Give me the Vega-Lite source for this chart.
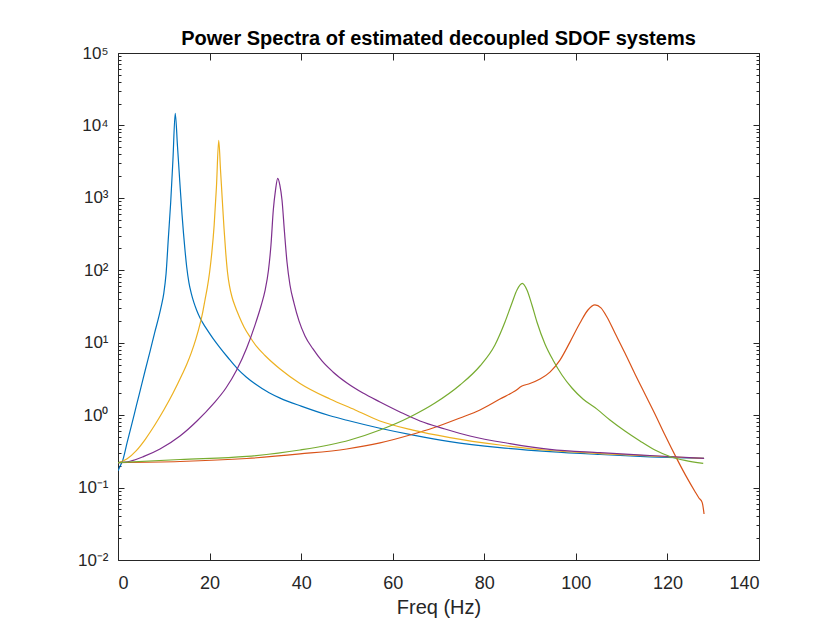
{
  "$schema": "https://vega.github.io/schema/vega-lite/v6.json",
  "width": 641,
  "height": 507,
  "autosize": {"type": "none"},
  "padding": {"left": 118, "top": 53, "right": 68, "bottom": 65},
  "background": "white",
  "config": {
    "font": "Liberation Sans",
    "view": {"stroke": "#262626", "strokeWidth": 1},
    "axis": {"grid": false, "domain": false, "tickColor": "#262626", "tickWidth": 1, "labelColor": "#262626", "titleColor": "#262626", "labelFont": "Liberation Sans", "titleFont": "Liberation Sans"}
  },
  "title": {"text": "Power Spectra of estimated decoupled SDOF systems", "fontSize": 20, "fontWeight": "bold", "color": "#000000", "anchor": "middle", "frame": "group", "baseline": "alphabetic", "offset": -21, "font": "Liberation Sans"},
  "data": {"values": [
    {"s":"1","f":0,"v":0.17},{"s":"1","f":0.5,"v":0.2},{"s":"1","f":1,"v":0.234},{"s":"1","f":2,"v":0.42},{"s":"1","f":3,"v":0.745},{"s":"1","f":4,"v":1.34},{"s":"1","f":5,"v":2.4},{"s":"1","f":6,"v":4.3},{"s":"1","f":7,"v":7.6},{"s":"1","f":8,"v":13.7},{"s":"1","f":9,"v":24},{"s":"1","f":9.5,"v":33},{"s":"1","f":10,"v":48},{"s":"1","f":10.5,"v":90},{"s":"1","f":11,"v":280},{"s":"1","f":11.5,"v":850},{"s":"1","f":12,"v":3370},{"s":"1","f":12.5,"v":14700},{"s":"1","f":13,"v":5070},{"s":"1","f":13.5,"v":1660},{"s":"1","f":14,"v":573},{"s":"1","f":14.6,"v":200},{"s":"1","f":15,"v":112},{"s":"1","f":15.5,"v":67},{"s":"1","f":16,"v":48},{"s":"1","f":16.6,"v":35.5},{"s":"1","f":17.2,"v":27.9},{"s":"1","f":17.9,"v":22.1},{"s":"1","f":19.2,"v":16},{"s":"1","f":20.7,"v":11.6},{"s":"1","f":22,"v":9.0},{"s":"1","f":24,"v":6.25},{"s":"1","f":26,"v":4.43},{"s":"1","f":28,"v":3.37},{"s":"1","f":30,"v":2.69},{"s":"1","f":33,"v":2.04},{"s":"1","f":35.4,"v":1.72},{"s":"1","f":40,"v":1.33},{"s":"1","f":46.3,"v":0.98},{"s":"1","f":50,"v":0.85},{"s":"1","f":57.2,"v":0.66},{"s":"1","f":64.5,"v":0.53},{"s":"1","f":72.5,"v":0.432},{"s":"1","f":83.4,"v":0.357},{"s":"1","f":94.3,"v":0.313},{"s":"1","f":105.3,"v":0.286},{"s":"1","f":116.2,"v":0.266},{"s":"1","f":128,"v":0.253},
    {"s":"2","f":0,"v":0.221},{"s":"2","f":13.54,"v":0.229},{"s":"2","f":28.11,"v":0.252},{"s":"2","f":39.75,"v":0.291},{"s":"2","f":49.95,"v":0.341},{"s":"2","f":57.22,"v":0.413},{"s":"2","f":63.77,"v":0.532},{"s":"2","f":68.79,"v":0.664},{"s":"2","f":74.69,"v":0.914},{"s":"2","f":79.06,"v":1.18},{"s":"2","f":83.42,"v":1.67},{"s":"2","f":86.7,"v":2.15},{"s":"2","f":88.23,"v":2.52},{"s":"2","f":89.97,"v":2.73},{"s":"2","f":92.16,"v":3.15},{"s":"2","f":94.34,"v":3.93},{"s":"2","f":96.53,"v":5.76},{"s":"2","f":98.71,"v":10.2},{"s":"2","f":100.9,"v":18.7},{"s":"2","f":102.64,"v":28.3},{"s":"2","f":104.17,"v":33.2},{"s":"2","f":105.48,"v":30.2},{"s":"2","f":106.79,"v":22.6},{"s":"2","f":108.54,"v":13.6},{"s":"2","f":110.72,"v":7.21},{"s":"2","f":112.91,"v":3.7},{"s":"2","f":115.09,"v":1.96},{"s":"2","f":117.27,"v":1.04},{"s":"2","f":119.46,"v":0.532},{"s":"2","f":122.01,"v":0.253},{"s":"2","f":124.04,"v":0.145},{"s":"2","f":126.01,"v":0.0883},{"s":"2","f":126.88,"v":0.0718},{"s":"2","f":127.6,"v":0.062},{"s":"2","f":128,"v":0.0432},
    {"s":"3","f":0,"v":0.22},{"s":"3","f":2,"v":0.25},{"s":"3","f":4,"v":0.324},{"s":"3","f":6,"v":0.468},{"s":"3","f":8,"v":0.724},{"s":"3","f":10,"v":1.175},{"s":"3","f":12,"v":2.0},{"s":"3","f":14,"v":3.63},{"s":"3","f":15,"v":5.0},{"s":"3","f":16,"v":7.24},{"s":"3","f":17,"v":11.2},{"s":"3","f":18,"v":19.1},{"s":"3","f":18.5,"v":26.3},{"s":"3","f":19,"v":38.9},{"s":"3","f":19.5,"v":57.5},{"s":"3","f":20,"v":93.3},{"s":"3","f":20.5,"v":178},{"s":"3","f":21,"v":417},{"s":"3","f":21.5,"v":1410},{"s":"3","f":22,"v":6200},{"s":"3","f":22.39,"v":2430},{"s":"3","f":22.78,"v":933},{"s":"3","f":23.15,"v":384},{"s":"3","f":23.52,"v":179},{"s":"3","f":23.91,"v":94.8},{"s":"3","f":24.35,"v":60.8},{"s":"3","f":24.9,"v":42.8},{"s":"3","f":25.55,"v":32.1},{"s":"3","f":26.42,"v":23.4},{"s":"3","f":27.52,"v":16.5},{"s":"3","f":28.83,"v":12.0},{"s":"3","f":30.36,"v":8.73},{"s":"3","f":32.1,"v":6.67},{"s":"3","f":35.4,"v":4.34},{"s":"3","f":39.75,"v":2.74},{"s":"3","f":46.3,"v":1.67},{"s":"3","f":51.8,"v":1.18},{"s":"3","f":57.2,"v":0.83},{"s":"3","f":64.4,"v":0.62},{"s":"3","f":72.5,"v":0.49},{"s":"3","f":83.4,"v":0.387},{"s":"3","f":94.3,"v":0.325},{"s":"3","f":105.3,"v":0.295},{"s":"3","f":116.2,"v":0.273},{"s":"3","f":128,"v":0.253},
    {"s":"4","f":0,"v":0.221},{"s":"4","f":2.62,"v":0.231},{"s":"4","f":5.53,"v":0.267},{"s":"4","f":9.17,"v":0.341},{"s":"4","f":13.54,"v":0.515},{"s":"4","f":17.25,"v":0.83},{"s":"4","f":20.81,"v":1.43},{"s":"4","f":23.58,"v":2.37},{"s":"4","f":25.92,"v":4.2},{"s":"4","f":28.11,"v":8.45},{"s":"4","f":29.92,"v":17.5},{"s":"4","f":31.23,"v":32.1},{"s":"4","f":32.1,"v":51.8},{"s":"4","f":32.87,"v":101},{"s":"4","f":33.41,"v":223},{"s":"4","f":33.92,"v":679},{"s":"4","f":34.4,"v":1280},{"s":"4","f":34.88,"v":1860},{"s":"4","f":35.35,"v":1500},{"s":"4","f":35.82,"v":933},{"s":"4","f":36.36,"v":337},{"s":"4","f":36.91,"v":130},{"s":"4","f":37.56,"v":62.7},{"s":"4","f":38.44,"v":35.3},{"s":"4","f":39.53,"v":20},{"s":"4","f":40.84,"v":12.4},{"s":"4","f":42.59,"v":8.2},{"s":"4","f":44.55,"v":5.6},{"s":"4","f":46.95,"v":3.95},{"s":"4","f":50.01,"v":2.78},{"s":"4","f":53.5,"v":2.02},{"s":"4","f":57.22,"v":1.52},{"s":"4","f":61.58,"v":1.107},{"s":"4","f":65.95,"v":0.83},{"s":"4","f":71.41,"v":0.644},{"s":"4","f":76.87,"v":0.515},{"s":"4","f":85.61,"v":0.405},{"s":"4","f":94.34,"v":0.337},{"s":"4","f":105.26,"v":0.303},{"s":"4","f":116.18,"v":0.277},{"s":"4","f":128,"v":0.253},
    {"s":"5","f":0,"v":0.221},{"s":"5","f":13.54,"v":0.244},{"s":"5","f":28.1,"v":0.269},{"s":"5","f":39.75,"v":0.33},{"s":"5","f":50.67,"v":0.454},{"s":"5","f":57.22,"v":0.624},{"s":"5","f":63.77,"v":0.944},{"s":"5","f":69.23,"v":1.47},{"s":"5","f":74.69,"v":2.61},{"s":"5","f":79.06,"v":4.77},{"s":"5","f":82.33,"v":9.31},{"s":"5","f":84.52,"v":19.3},{"s":"5","f":86.05,"v":35.4},{"s":"5","f":87.14,"v":53.5},{"s":"5","f":88.3,"v":66},{"s":"5","f":89.32,"v":53.5},{"s":"5","f":90.41,"v":33.2},{"s":"5","f":91.5,"v":19.3},{"s":"5","f":93.25,"v":9.6},{"s":"5","f":95.0,"v":5.77},{"s":"5","f":96.96,"v":3.58},{"s":"5","f":99.15,"v":2.37},{"s":"5","f":101.55,"v":1.67},{"s":"5","f":104.54,"v":1.22},{"s":"5","f":107.45,"v":0.857},{"s":"5","f":110.72,"v":0.604},{"s":"5","f":114.0,"v":0.44},{"s":"5","f":117.27,"v":0.33},{"s":"5","f":120.55,"v":0.269},{"s":"5","f":123.82,"v":0.237},{"s":"5","f":127.82,"v":0.216}
  ]},
  "layer": [
    {
      "mark": {"type": "line", "strokeWidth": 1.2, "clip": true, "interpolate": "monotone"},
      "encoding": {
        "x": {"field": "f", "type": "quantitative", "scale": {"domain": [0, 140], "nice": false, "zero": false},
          "axis": {"orient": "bottom", "values": [0,20,40,60,80,100,120,140], "offset": -7, "tickSize": 7, "labelFontSize": 18, "labelPadding": 14, "title": "Freq (Hz)", "titleFontSize": 20, "titleFontWeight": "normal", "titlePadding": 5}},
        "y": {"field": "v", "type": "quantitative", "scale": {"type": "log", "domain": [0.01, 100000], "nice": false},
          "axis": {"orient": "left", "title": null, "offset": -6, "tickSize": 6,
            "values": [0.01,0.1,1,10,100,1000,10000,100000],
            "labelExpr": "'10' + ['⁻²','⁻¹','⁰','¹','²','³','⁴','⁵'][round(log(datum.value)/LN10)+2]",
            "labelFontSize": 17, "labelPadding": 10, "labelBaseline": "middle"}},
        "color": {"field": "s", "type": "nominal", "legend": null,
          "scale": {"domain": ["1","2","3","4","5"], "range": ["#0072BD","#D95319","#EDB120","#7E2F8E","#77AC30"]}}
      }
    },
    {
      "mark": {"type": "line", "strokeOpacity": 0},
      "encoding": {
        "x": {"field": "f", "type": "quantitative",
          "axis": {"orient": "top", "values": [0,20,40,60,80,100,120,140], "offset": -7, "tickSize": 7, "labels": false, "title": null}},
        "y": {"field": "v", "type": "quantitative",
          "axis": {"orient": "right", "title": null, "labels": false, "offset": -6, "tickSize": 6,
            "values": [0.01,0.1,1,10,100,1000,10000,100000]}},
        "detail": {"field": "s"}
      }
    },
    {
      "mark": {"type": "line", "strokeOpacity": 0},
      "encoding": {
        "x": {"field": "f", "type": "quantitative", "axis": null},
        "y": {"field": "v", "type": "quantitative",
          "axis": {"orient": "left", "title": null, "labels": false, "offset": -3, "tickSize": 3,
            "values": [0.02,0.03,0.04,0.05,0.06,0.07,0.08,0.09,0.2,0.3,0.4,0.5,0.6,0.7,0.8,0.9,2,3,4,5,6,7,8,9,20,30,40,50,60,70,80,90,200,300,400,500,600,700,800,900,2000,3000,4000,5000,6000,7000,8000,9000,20000,30000,40000,50000,60000,70000,80000,90000]}},
        "detail": {"field": "s"}
      }
    },
    {
      "mark": {"type": "line", "strokeOpacity": 0},
      "encoding": {
        "x": {"field": "f", "type": "quantitative", "axis": null},
        "y": {"field": "v", "type": "quantitative",
          "axis": {"orient": "right", "title": null, "labels": false, "offset": -3, "tickSize": 3,
            "values": [0.02,0.03,0.04,0.05,0.06,0.07,0.08,0.09,0.2,0.3,0.4,0.5,0.6,0.7,0.8,0.9,2,3,4,5,6,7,8,9,20,30,40,50,60,70,80,90,200,300,400,500,600,700,800,900,2000,3000,4000,5000,6000,7000,8000,9000,20000,30000,40000,50000,60000,70000,80000,90000]}},
        "detail": {"field": "s"}
      }
    }
  ],
  "resolve": {"axis": {"x": "independent", "y": "independent"}}
}
